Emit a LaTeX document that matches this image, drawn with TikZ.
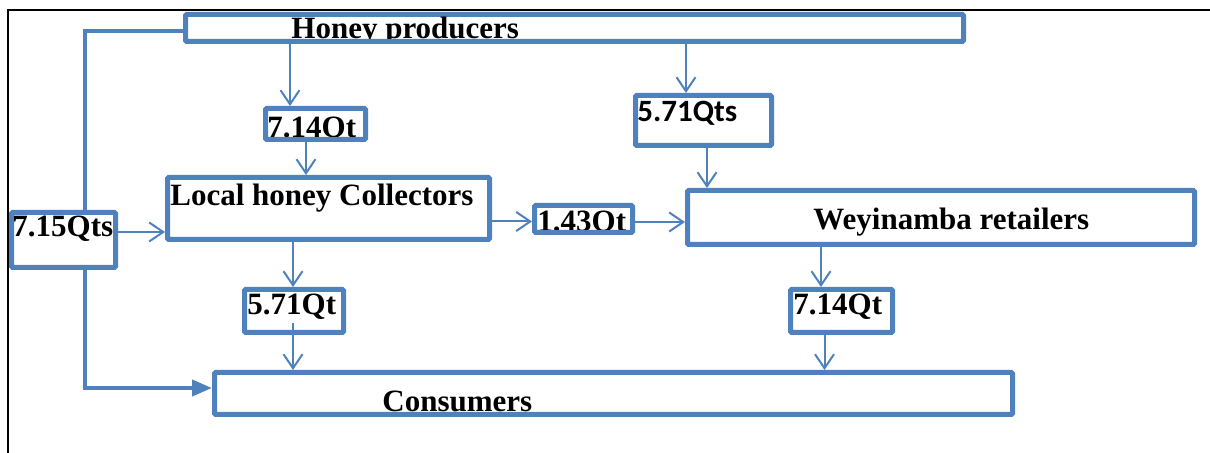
\documentclass[tikz,border=0pt]{standalone}
\usepackage{fontspec}
\setmainfont{Liberation Serif}
\newfontfamily\calibri{Carlito}
\usetikzlibrary{arrows.meta}
\definecolor{boxblue}{RGB}{79,129,189}
\begin{document}
\begin{tikzpicture}[x=0.5pt,y=-0.5pt,box/.style={draw=boxblue,line width=2.5pt,outer sep=1.25pt,fill=white,inner sep=0pt,rounded corners=0.6pt},lbl/.style={anchor=base west,inner sep=0pt,font=\fontsize{15.5}{18}\selectfont\bfseries}]
\useasboundingbox (0,0) rectangle (1210,453);
\draw[line width=1pt] (8,453) -- (8,10) -- (1210,10);%frame
\node[box,minimum width=389pt,minimum height=13.5pt] (hp) at (574.5,28) {};%producers
\node[box,minimum width=399pt,minimum height=21pt] (con) at (613.5,393.5) {};%consumers
\coordinate (turn) at (85,388);
\draw[draw=boxblue,line width=2pt,-{Triangle[length=10pt,width=8pt]}] ([yshift=-1.5pt]hp.west) -| (turn) -- (turn -| con.west);
\node[box,minimum width=50pt,minimum height=15.5pt] (q1) at (315.5,124) {};%7.14
\node[box,minimum width=68pt,minimum height=25pt] (q2) at (703.5,120.5) {};%5.71
\node[box,minimum width=161pt,minimum height=31pt] (lhc) at (328.5,208.5) {};%collectors
\node[box,minimum width=52pt,minimum height=27.5pt] (q3) at (63.5,240) {};%7.15
\node[box,minimum width=49pt,minimum height=13.5pt] (q4) at (583.5,219) {};%1.43
\node[box,minimum width=253.5pt,minimum height=27pt] (wr) at (941,217.5) {};%retailers
\node[box,minimum width=49.5pt,minimum height=21.5pt] (q5) at (294,311) {};%5.71
\node[box,minimum width=51pt,minimum height=21.5pt] (q6) at (841.5,311) {};%7.14
\begin{scope}
\clip ([shift={(2.5pt,2.5pt)}]hp.south west) rectangle ([shift={(-2.5pt,-2.5pt)}]hp.north east);
\node[lbl] (hptext) at (291,39) {Honey producers};
\end{scope}
\begin{scope}
\clip ([shift={(2.5pt,2.5pt)}]q1.south west) rectangle ([shift={(-2.5pt,-2.5pt)}]q1.north east);
\node[lbl] (q1text) at (267,138) {7.14Qt};
\end{scope}
\begin{scope}
\clip ([shift={(2.5pt,2.5pt)}]q4.south west) rectangle ([shift={(-2.5pt,-2.5pt)}]q4.north east);
\node[lbl] (q4text) at (537,232) {1.43Qt};
\end{scope}
\node[lbl,font=\fontsize{15.5}{18}\selectfont\calibri\bfseries] (q2text) at (637,122) {5.71Qts};
\node[lbl] (lhctext) at (170,206) {Local honey Collectors};
\node[lbl] (q3text) at (12,237) {7.15Qts};
\node[lbl] (wrtext) at (813,230) {Weyinamba retailers};
\node[lbl] (q5text) at (247,315) {5.71Qt};
\node[lbl] (q6text) at (793,315) {7.14Qt};
\node[lbl] (context) at (382,412) {Consumers};
\begin{scope}[every edge/.style={draw=boxblue,line width=1pt,-{Straight Barb[length=7pt,width=9.5pt]}}]
\draw ([xshift=-12.75pt]q1.north |- hp.south) edge ([xshift=-12.75pt]q1.north);%1
\draw ([xshift=-4.75pt]q1.south) edge ([xshift=-4.75pt]q1.south |- lhc.north);%2
\draw ([xshift=-8.75pt]q2.north |- hp.south) edge ([xshift=-8.75pt]q2.north);%3
\draw ([xshift=1.75pt]q2.south) edge ([xshift=1.75pt]q2.south |- wr.north);%4
\draw ([yshift=4pt]q3.east) edge ([yshift=4pt]q3.east -| lhc.west);%5
\draw ([yshift=-1.25pt]q4.west -| lhc.east) edge ([yshift=-1.25pt]q4.west);%6
\draw ([yshift=-1.5pt]q4.east) edge ([yshift=-1.5pt]q4.east -| wr.west);%7
\draw ([xshift=-0.5pt]q5.north |- lhc.south) edge ([xshift=-0.5pt]q5.north);%8
\draw ([xshift=-0.5pt,yshift=6pt]q5.south) edge ([xshift=-0.5pt]q5.south |- con.north);%9
\draw ([xshift=-10.25pt]q6.north |- wr.south) edge ([xshift=-10.25pt]q6.north);%10
\draw ([xshift=-8.5pt]q6.south) edge ([xshift=-8.5pt]q6.south |- con.north);%11
\end{scope}
\end{tikzpicture}
\end{document}
